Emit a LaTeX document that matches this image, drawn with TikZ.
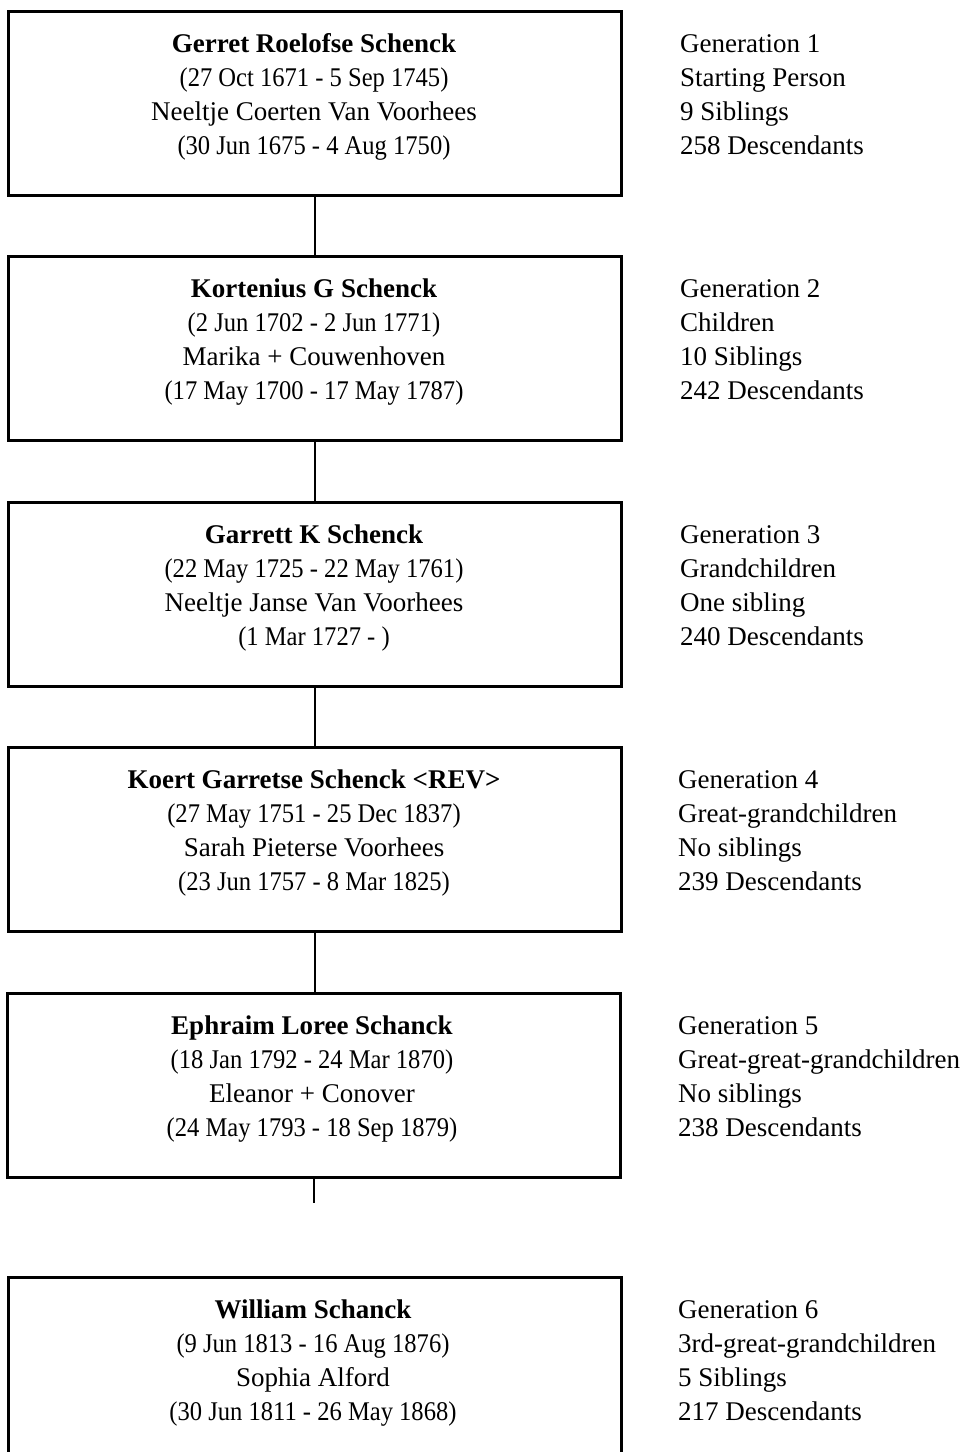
\documentclass[tikz,border=0pt]{standalone}
\usepackage{fontspec}
\setmainfont{Liberation Serif}
\newcommand\fourlines[9]{%
  \node[#4] (#1a) at (#2,#3) {#5};
  \node[#4,#9] (#1b) at (#2,#3+34.3) {#6};
  \node[#4] (#1c) at (#2,#3+68.6) {#7};
  \node[#4,#9] (#1d) at (#2,#3+102.9) {#8};
}
\begin{document}
\begin{tikzpicture}[x=1pt,y=-1pt,
  gbox/.style={draw, line width=2.8pt, minimum width=613pt, minimum height=184pt, inner sep=0pt, anchor=north west},
  txt/.style={font=\fontsize{27}{34}\selectfont, inner sep=0pt, anchor=base},
  rtxt/.style={txt, anchor=base west},
  dates/.style={xscale=0.91, transform shape},
  plain/.style={},
  conn/.style={line width=1.8pt}]
\useasboundingbox (0,0) rectangle (965,1452);
\node[gbox] (b1) at (7,10) {};
\node[gbox] (b2) at (7,255) {};
\node[gbox] (b3) at (7,501) {};
\node[gbox] (b4) at (7,746) {};
\node[gbox] (b5) at (6,992) {};
\node[gbox] (b6) at (7,1276) {};
\coordinate (s5) at (313,1203);
\draw[conn] (b1.south) -- (b1.south |- b2.north);
\draw[conn] (b2.south) -- (b2.south |- b3.north);
\draw[conn] (b3.south) -- (b3.south |- b4.north);
\draw[conn] (b4.south) -- (b4.south |- b5.north);
\draw[conn] (b5.south) -- (b5.south |- s5);
\fourlines{p1}{314}{52}{txt}{\textbf{Gerret Roelofse Schenck}}{(27 Oct 1671 - 5 Sep 1745)}{Neeltje Coerten Van Voorhees}{(30 Jun 1675 - 4 Aug 1750)}{dates}
\fourlines{p2}{314}{297}{txt}{\textbf{Kortenius G Schenck}}{(2 Jun 1702 - 2 Jun 1771)}{Marika + Couwenhoven}{(17 May 1700 - 17 May 1787)}{dates}
\fourlines{p3}{314}{543}{txt}{\textbf{Garrett K Schenck}}{(22 May 1725 - 22 May 1761)}{Neeltje Janse Van Voorhees}{(1 Mar 1727 - )}{dates}
\fourlines{p4}{314}{788}{txt}{\textbf{Koert Garretse Schenck <REV>}}{(27 May 1751 - 25 Dec 1837)}{Sarah Pieterse Voorhees}{(23 Jun 1757 - 8 Mar 1825)}{dates}
\fourlines{p5}{312}{1034}{txt}{\textbf{Ephraim Loree Schanck}}{(18 Jan 1792 - 24 Mar 1870)}{Eleanor + Conover}{(24 May 1793 - 18 Sep 1879)}{dates}
\fourlines{p6}{313}{1318}{txt}{\textbf{William Schanck}}{(9 Jun 1813 - 16 Aug 1876)}{Sophia Alford}{(30 Jun 1811 - 26 May 1868)}{dates}
\fourlines{g1}{680}{52}{rtxt}{Generation 1}{Starting Person}{9 Siblings}{258 Descendants}{plain}
\fourlines{g2}{680}{297}{rtxt}{Generation 2}{Children}{10 Siblings}{242 Descendants}{plain}
\fourlines{g3}{680}{543}{rtxt}{Generation 3}{Grandchildren}{One sibling}{240 Descendants}{plain}
\fourlines{g4}{678}{788}{rtxt}{Generation 4}{Great-grandchildren}{No siblings}{239 Descendants}{plain}
\fourlines{g5}{678}{1034}{rtxt}{Generation 5}{Great-great-grandchildren}{No siblings}{238 Descendants}{plain}
\fourlines{g6}{678}{1318}{rtxt}{Generation 6}{3rd-great-grandchildren}{5 Siblings}{217 Descendants}{plain}
\end{tikzpicture}
\end{document}
